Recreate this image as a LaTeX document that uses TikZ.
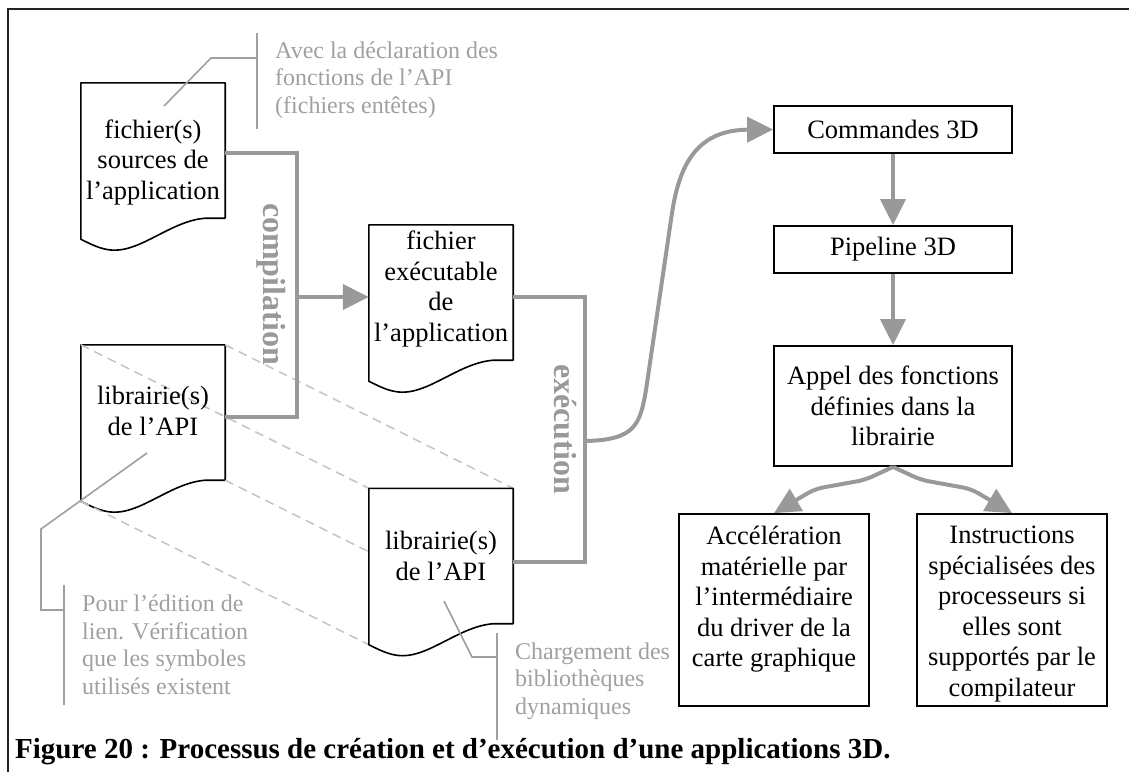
\documentclass[tikz,border=0pt]{standalone}
\usepackage{fontspec}
\setmainfont{Liberation Serif}
\usetikzlibrary{arrows.meta}
\definecolor{conngray}{HTML}{999999}
\definecolor{notegray}{HTML}{A0A0A0}
\definecolor{dashgray}{HTML}{C4C4C4}
\definecolor{framegray}{HTML}{222222}

% outline of a "document" symbol (wavy bottom) around an empty frame node
\newcommand\docoutline[1]{%
  \path[docline] (#1.south east) -- (#1.north east) -- (#1.north west)
    -- ([shift={(0,21)}]#1.south west)
    .. controls ([shift={(12,27)}]#1.south west) and ([shift={(22,32)}]#1.south west)
    .. ([shift={(34,32)}]#1.south west)
    .. controls ([shift={(62,32)}]#1.south west) and ([shift={(92,2)}]#1.south west)
    .. ([shift={(125,0)}]#1.south west) -- cycle;}

\begin{document}
\begin{tikzpicture}[x=1pt,y=-1pt,
  body/.style={font=\fontsize{26.5}{30.5}\selectfont, align=center, inner sep=0pt},
  note/.style={font=\fontsize{24}{27.5}\selectfont, text=notegray, align=left, inner sep=0pt, anchor=west},
  docframe/.style={minimum width=144pt, minimum height=135pt, inner sep=0pt},
  docline/.style={draw=black, line width=1.6pt, fill=white, line join=round},
  boxnode/.style={draw=black, line width=1.8pt, fill=white},
  conn/.style={draw=conngray, line width=4pt},
  tip/.style={-{Triangle[length=26pt,width=25pt]}},
  callout/.style={draw=notegray, line width=1.6pt},
  proj/.style={draw=dashgray, line width=1.5pt, dash pattern=on 9pt off 6pt},
  vlabel/.style={font=\fontsize{32}{32}\bfseries\selectfont, text=conngray, rotate=-90, inner sep=0pt}
]
\useasboundingbox (0,0) rectangle (1129,772);

% page frame (top and left edges)
\coordinate (fA) at (8,772);
\coordinate (fB) at (8,9);
\coordinate (fC) at (1129,9);
\draw[framegray, line width=2pt] (fA) -- (fB) -- (fC);

% document frames
\node[docframe] (src)  at (153,150.5) {};
\node[docframe] (lib1) at (153,412.5) {};
\node[docframe] (exe)  at (441,292.5) {};
\node[docframe] (lib2) at (441,556) {};

\docoutline{src}
\docoutline{lib1}
\docoutline{exe}

% projection lines from the library to its loaded copy
\draw[proj] (lib1.north west) -- (lib2.north west);
\draw[proj] (lib1.north east) -- (lib2.north east);
\draw[proj] (lib1.south east) -- (lib2.south east);
\draw[proj] ([shift={(0,21)}]lib1.south west) -- ([shift={(0,21)}]lib2.south west);

\docoutline{lib2}

% document texts
\node[body] (srcT)  at (153,162) {fichier(s)\\sources de\\l’application};
\node[body] (lib1T) at (153,411) {librairie(s)\\de l’API};
\node[body] (exeT)  at (441,289) {fichier\\exécutable\\de\\l’application};
\node[body] (lib2T) at (441,556) {librairie(s)\\de l’API};

% right column
\node[boxnode, body, minimum width=238pt, minimum height=47pt] (cmd) at (893,129.5) {Commandes 3D};
\node[boxnode, body, minimum width=238pt, minimum height=47pt] (pipe) at (893,249.5) {Pipeline 3D};
\node[boxnode, body, minimum width=238pt, minimum height=120pt] (appel) at (893,406) {Appel des fonctions\\définies dans la\\librairie};
\node[boxnode, minimum width=190pt, minimum height=192pt] (accel) at (774,610) {};
\node[body, anchor=north] (accelT) at ([shift={(0,13)}]accel.north) {Accélération\\matérielle par\\l’intermédiaire\\du driver de la\\carte graphique};
\node[boxnode, minimum width=190pt, minimum height=192pt] (instr) at (1012,610) {};
\node[body, anchor=north] (instrT) at ([shift={(0,13)}]instr.north) {Instructions\\spécialisées des\\processeurs si\\elles sont\\supportés par le\\compilateur};

% compilation
\coordinate (cbr) at (297,297);
\draw[conn] ([shift={(0,2.5)}]src.east) -| (cbr) |- ([shift={(0,4.5)}]lib1.east);
\draw[conn, tip] (cbr) -- (cbr -| exe.west);
\node[vlabel] (lblC) at (271,284) {compilation};

% execution
\coordinate (ebr) at (585,441);
\draw[conn] ([shift={(0,4.5)}]exe.east) -| (ebr) |- ([shift={(0,6)}]lib2.east);
\draw[conn, tip] (ebr) .. controls (635,440) and (640,425) .. (646,390)
  -- (672,213) .. controls (680,160) and (700,130) .. (cmd.west);
\node[vlabel] (lblE) at (565,429) {exécution};

% pipeline
\draw[conn, tip] (cmd) -- (pipe);
\draw[conn, tip] (pipe) -- (appel);
\draw[conn, tip, rounded corners=8pt] (appel.south) -- ++(-28,13) -- ++(-50,9) -- (accel.north);
\draw[conn, tip, rounded corners=8pt] (appel.south) -- ++(28,13) -- ++(50,9) -- (instr.north);

% annotations
\node[note] (noteA) at (275,80) {Avec la déclaration des\\fonctions de l’API\\(fichiers entêtes)};
\node[note] (noteB) at (82,645) {Pour l’édition de\\lien. Vérification\\que les symboles\\utilisés existent};
\node[note] (noteC) at (515,681) {Chargement des\\bibliothèques\\dynamiques};

\coordinate (pA) at (164,106);
\coordinate (kA) at (211,58);
\coordinate (jA) at (257,58);
\coordinate (tA) at (257,33);
\coordinate (uA) at (257,129);
\draw[callout] (pA) -- (kA) -- (jA);
\draw[callout] (tA) -- (uA);

\coordinate (pB) at (147,453);
\coordinate (kB) at (41,529);
\coordinate (mB) at (41,610);
\coordinate (jB) at (64,610);
\coordinate (tB) at (64,585);
\coordinate (uB) at (64,705);
\draw[callout] (pB) -- (kB) -- (mB) -- (jB);
\draw[callout] (tB) -- (uB);

\coordinate (pC) at (444,601);
\coordinate (kC) at (472,657);
\coordinate (jC) at (497,657);
\coordinate (tC) at (497,633);
\coordinate (uC) at (497,740);
\draw[callout] (pC) -- (kC) -- (jC);
\draw[callout] (tC) -- (uC);

% caption
\node[font=\fontsize{29}{29}\bfseries\selectfont, anchor=base west, inner sep=0pt] (cap) at (15,758)
  {Figure 20 : Processus de création et d’exécution d’une applications 3D.};
\end{tikzpicture}
\end{document}
